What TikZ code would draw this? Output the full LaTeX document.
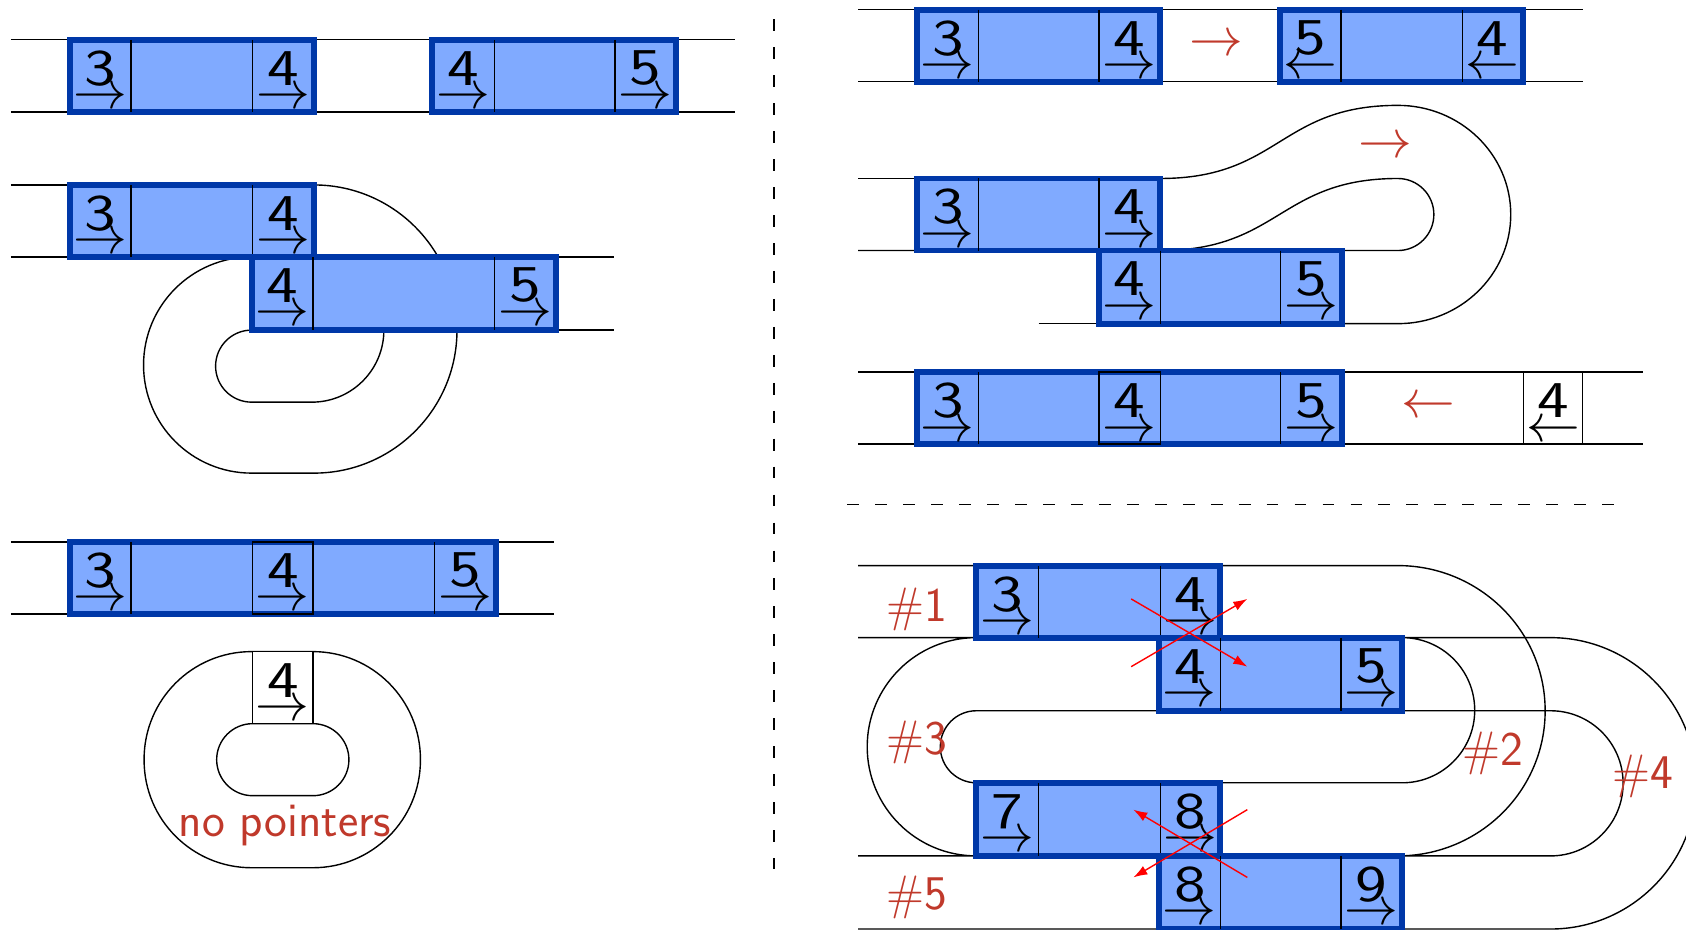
\RequirePackage{fix-cm}
\documentclass[tikz,border=0pt]{standalone}
\usepackage{graphicx}
\usetikzlibrary{arrows.meta}
\definecolor{boxfill}{RGB}{128,170,255}
\definecolor{boxedge}{RGB}{0,56,168}
\definecolor{txtred}{RGB}{192,57,43}
\newcommand{\digitfont}{\fontsize{48}{48}\selectfont\sffamily}
\newcommand{\arrowfont}{\fontsize{50}{50}\selectfont}
\newcommand{\labelfont}{\fontsize{45}{45}\selectfont\sffamily}
\tikzset{
  wire/.style={line width=1.3pt, draw=black},
  ptrbox/.style={fill=boxfill, draw=boxedge, line width=5.5pt},
  divider/.style={line width=1.3pt, draw=black},
  cellframe/.style={line width=1.3pt, draw=black},
  dig/.style={inner sep=0pt, font=\digitfont},
  arr/.style={inner sep=0pt, font=\arrowfont},
  lbl/.style={inner sep=0pt, text=txtred, font=\labelfont},
  redarr/.style={inner sep=0pt, text=txtred, font=\arrowfont},
  redline/.style={red, line width=1.3pt, -{Latex[length=13pt,width=9pt]}},
  sepline/.style={line width=1.3pt, dash pattern=on 11pt off 15pt},
}
% cell: name, x1, x2, top, digit, arrow
\newcommand{\pcell}[6]{%
  \node[dig] (#1d) at ({(#2+#3)/2},{#4+26.5}) {\scalebox{1.3}[1]{#5}};
  \node[arr] (#1a) at ({(#2+#3)/2},{#4+55}) {$#6$};
}
\newcommand{\pbox}[4]{\draw[ptrbox] (#1,#2) rectangle (#3,#4);}
\newcommand{\pdiv}[3]{\draw[divider] (#1,#2) -- (#1,#3);}
\begin{document}
\begin{tikzpicture}[x=1pt,y=-1pt]
\useasboundingbox (0,0) rectangle (1568,864);
\clip (0,0) rectangle (1568,864);

% separators
\draw[sepline] (720,18) -- (720,808);
\draw[sepline] (788,469) -- (1510,469);

% ===== top left =====
\draw[wire] (10,37) -- (684,37);
\draw[wire] (10,104) -- (684,104);
\pbox{65}{37}{292}{104} \pdiv{122}{37}{104} \pdiv{235}{37}{104}
\pbox{402}{37}{629}{104} \pdiv{460}{37}{104} \pdiv{572}{37}{104}
\pcell{a1}{65}{122}{37}{3}{\rightarrow}
\pcell{a2}{235}{292}{37}{4}{\rightarrow}
\pcell{a3}{402}{460}{37}{4}{\rightarrow}
\pcell{a4}{572}{629}{37}{5}{\rightarrow}

% ===== middle left =====
\draw[wire] (10,172) -- (65,172);
\draw[wire] (10,239) -- (571,239);
\draw[wire] (517,307) -- (571,307);
\draw[wire] (292,172) arc[start angle=270,end angle=360,radius=133] -- (425,307)
  arc[start angle=0,end angle=90,radius=133] -- (234,440)
  arc[start angle=90,end angle=270,radius=100.5];
\draw[wire] (357,307) arc[start angle=0,end angle=90,radius=67] -- (234,374)
  arc[start angle=90,end angle=270,radius=33.5];
\pbox{65}{172}{292}{239} \pdiv{122}{172}{239} \pdiv{235}{172}{239}
\pbox{234}{239}{517}{307} \pdiv{291}{239}{307} \pdiv{460}{239}{307}
\pcell{b1}{65}{122}{172}{3}{\rightarrow}
\pcell{b2}{235}{292}{172}{4}{\rightarrow}
\pcell{b3}{234}{291}{239}{4}{\rightarrow}
\pcell{b4}{460}{517}{239}{5}{\rightarrow}

% ===== bottom left =====
\draw[wire] (10,504) -- (515,504);
\draw[wire] (10,571) -- (515,571);
\pbox{65}{504}{461}{571} \pdiv{122}{504}{571} \pdiv{404}{504}{571}
\draw[cellframe] (235,504) rectangle (291,571);
\pcell{c1}{65}{122}{504}{3}{\rightarrow}
\pcell{c2}{235}{291}{504}{4}{\rightarrow}
\pcell{c3}{404}{461}{504}{5}{\rightarrow}
\draw[wire] (234,606) -- (291,606) arc[start angle=270,end angle=360,radius=100] -- (391,707)
  arc[start angle=0,end angle=90,radius=100] -- (234,807)
  arc[start angle=90,end angle=180,radius=100] -- (134,706)
  arc[start angle=180,end angle=270,radius=100] -- cycle;
\draw[wire] (235,673) -- (291,673) arc[start angle=270,end angle=450,radius=33.5] -- (235,740)
  arc[start angle=90,end angle=270,radius=33.5] -- cycle;
\draw[cellframe, fill=white] (235,606) rectangle (291,673);
\pcell{c4}{235}{291}{606}{4}{\rightarrow}
\node[lbl] (nop) at (265,768) {no pointers};

% ===== right top =====
\draw[wire] (798,9) -- (1472,9);
\draw[wire] (798,76) -- (1472,76);
\pbox{853}{9}{1079}{76} \pdiv{910}{9}{76} \pdiv{1022}{9}{76}
\pbox{1190}{9}{1416}{76} \pdiv{1247}{9}{76} \pdiv{1360}{9}{76}
\pcell{d1}{853}{910}{9}{3}{\rightarrow}
\pcell{d2}{1022}{1079}{9}{4}{\rightarrow}
\pcell{d3}{1190}{1247}{9}{5}{\leftarrow}
\pcell{d4}{1360}{1416}{9}{4}{\leftarrow}
\node[redarr] (r1) at (1131,42) {$\rightarrow$};

% ===== right middle =====
\draw[wire] (798,166) -- (853,166);
\draw[wire] (798,233) -- (1079,233) .. controls (1190,233) and (1190,166) .. (1300,166)
  arc[start angle=270,end angle=450,radius=33.5] -- (1248,233);
\draw[wire] (853,166) -- (1079,166) .. controls (1190,166) and (1190,98) .. (1300,98)
  arc[start angle=270,end angle=450,x radius=105,y radius=101.5] -- (1248,301);
\draw[wire] (966,301) -- (1022,301);
\pbox{853}{166}{1079}{233} \pdiv{910}{166}{233} \pdiv{1022}{166}{233}
\pbox{1022}{233}{1248}{301} \pdiv{1079}{233}{301} \pdiv{1191}{233}{301}
\pcell{e1}{853}{910}{166}{3}{\rightarrow}
\pcell{e2}{1022}{1079}{166}{4}{\rightarrow}
\pcell{e3}{1022}{1079}{233}{4}{\rightarrow}
\pcell{e4}{1191}{1248}{233}{5}{\rightarrow}
\node[redarr] (r2) at (1288,137) {$\rightarrow$};

% ===== right third =====
\draw[wire] (798,346) -- (1528,346);
\draw[wire] (798,413) -- (1528,413);
\pbox{853}{346}{1248}{413} \pdiv{910}{346}{413} \pdiv{1191}{346}{413}
\draw[cellframe] (1022,346) rectangle (1079,413);
\pcell{f1}{853}{910}{346}{3}{\rightarrow}
\pcell{f2}{1022}{1079}{346}{4}{\rightarrow}
\pcell{f3}{1191}{1248}{346}{5}{\rightarrow}
\draw[cellframe, fill=white] (1417,346) rectangle (1472,413);
\pcell{f4}{1417}{1472}{346}{4}{\leftarrow}
\node[redarr] (r3) at (1328,379) {$\leftarrow$};

% ===== right bottom =====
\draw[wire] (798,526) -- (1300,526) arc[start angle=270,end angle=450,x radius=137,y radius=135]
  -- (1442,796) arc[start angle=90,end angle=-90,radius=67.5] -- (908,661)
  arc[start angle=270,end angle=90,radius=33.5];
\draw[wire] (798,593) -- (908,593) arc[start angle=270,end angle=90,radius=101.5] -- (798,796);
\draw[wire] (1135,728) -- (1304,728) arc[start angle=90,end angle=-90,radius=67.5] -- (1442,593)
  arc[start angle=270,end angle=450,radius=135.5] -- (798,864);
\pbox{908}{526}{1135}{593} \pdiv{966}{526}{593} \pdiv{1079}{526}{593}
\pbox{1078}{593}{1304}{661} \pdiv{1135}{593}{661} \pdiv{1247}{593}{661}
\pbox{908}{728}{1135}{796} \pdiv{966}{728}{796} \pdiv{1079}{728}{796}
\pbox{1078}{796}{1304}{864} \pdiv{1135}{796}{864} \pdiv{1247}{796}{864}
\pcell{g1}{908}{966}{526}{3}{\rightarrow}
\pcell{g2}{1079}{1135}{526}{4}{\rightarrow}
\pcell{g3}{1078}{1135}{593}{4}{\rightarrow}
\pcell{g4}{1247}{1304}{593}{5}{\rightarrow}
\pcell{g5}{908}{966}{728}{7}{\rightarrow}
\pcell{g6}{1079}{1135}{728}{8}{\rightarrow}
\pcell{g7}{1078}{1135}{796}{8}{\rightarrow}
\pcell{g8}{1247}{1304}{796}{9}{\rightarrow}

\node[lbl] (h1) at (853,567) {\#1};
\node[lbl] (h3) at (853,690) {\#3};
\node[lbl] (h2) at (1388,701) {\#2};
\node[lbl] (h4) at (1528,722) {\#4};
\node[lbl] (h5) at (853,835) {\#5};

\coordinate (xa1) at (1052,557); \coordinate (xa2) at (1160,620);
\coordinate (xb1) at (1052,620); \coordinate (xb2) at (1160,557);
\coordinate (xc1) at (1160,816); \coordinate (xc2) at (1054,753);
\coordinate (xd1) at (1160,753); \coordinate (xd2) at (1054,816);
\draw[redline] (xa1) -- (xa2);
\draw[redline] (xb1) -- (xb2);
\draw[redline] (xc1) -- (xc2);
\draw[redline] (xd1) -- (xd2);
\end{tikzpicture}
\end{document}
